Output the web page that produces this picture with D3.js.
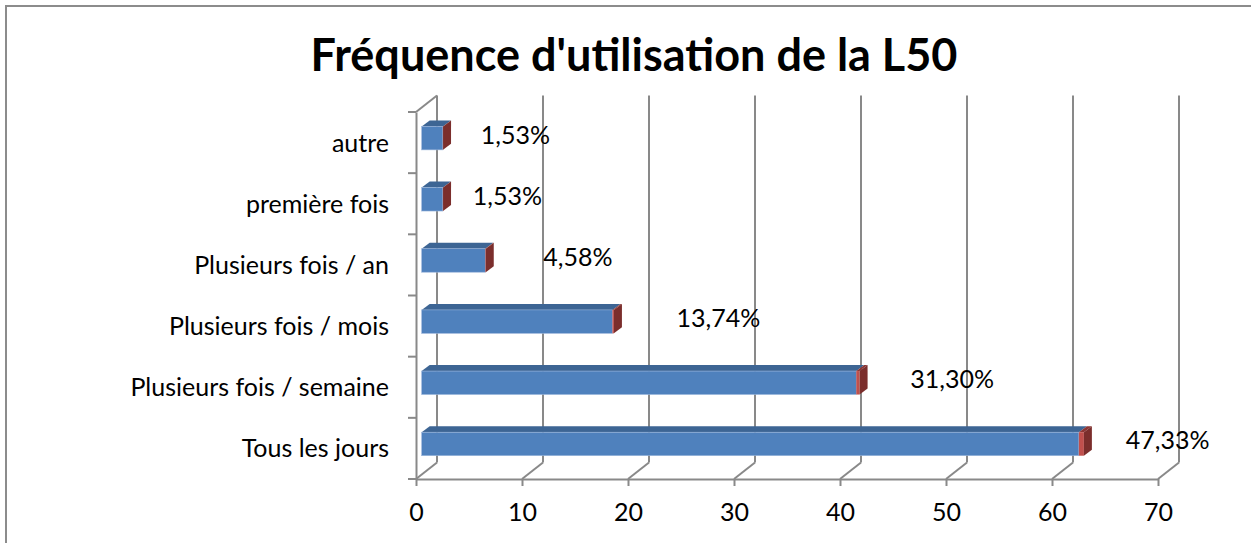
<!DOCTYPE html>
<html>
<head>
<meta charset="utf-8">
<script src="https://cdn.jsdelivr.net/npm/d3@7"></script>
<style>
  body { margin: 0; background: #fff; }
  text { font-family: Lato, "Open Sans", sans-serif; fill: #000; }
</style>
</head>
<body>
<svg id="chart" width="1251" height="543"></svg>
<script>
// Data, in series order (bottom bar first)
const categories = [
  "Tous les jours",
  "Plusieurs fois / semaine",
  "Plusieurs fois / mois",
  "Plusieurs fois / an",
  "première fois",
  "autre",
];
const counts = [62, 41, 18, 6, 2, 2];
const shares = [47.33, 31.30, 13.74, 4.58, 1.53, 1.53]; // percent, second (red) series
const xTicks = [0, 10, 20, 30, 40, 50, 60, 70];

const CONFIG = {
  left: 416,
  right: 1158,
  top: 112,
  bottom: 479,
  depthX: 21,       // back wall offset
  depthY: -16.5,
  barFront: 0.27,   // bar front plane, as a fraction of the depth
  barDepthX: 8,
  barDepthY: -6,
  barHeight: 0.384, // fraction of the band
  grid: "#898989",
  blue: "#4f81bd",
  blueTop: "#3d6594",
  red: "#c0504d",
  redTop: "#8c3634",
  redSide: "#7b2e2c",
  fontSize: "25px",
  labelGap: 48,
  labelNudge: [-1, 6, 16, 10, -18, -10],
};

const svg = d3.select("#chart");

// chart frame
svg.append("rect")
  .attr("x", 6).attr("y", 6)
  .attr("width", 1270).attr("height", 560)
  .attr("fill", "#fff")
  .attr("stroke", "#8c8c8c")
  .attr("stroke-width", 2);

svg.append("text")
  .attr("x", 634).attr("y", 71)
  .attr("text-anchor", "middle")
  .style("font-size", "45px")
  .style("font-weight", "bold")
  .text("Fréquence d'utilisation de la L50");

const x = d3.scaleLinear().domain([0, 70]).range([CONFIG.left, CONFIG.right]);
const y = d3.scaleBand()
  .domain(categories.slice().reverse())
  .range([CONFIG.top, CONFIG.bottom]);

const dx = CONFIG.depthX;
const dy = CONFIG.depthY;
const g = svg.append("g");

// Back wall gridlines
g.selectAll(".grid")
  .data(xTicks)
  .enter()
  .append("line")
  .attr("x1", d => x(d) + dx).attr("x2", d => x(d) + dx)
  .attr("y1", CONFIG.top + dy).attr("y2", CONFIG.bottom + dy)
  .attr("stroke", CONFIG.grid)
  .attr("stroke-width", 2);

// Floor diagonals
g.selectAll(".floor")
  .data(xTicks)
  .enter()
  .append("line")
  .attr("x1", d => x(d)).attr("y1", CONFIG.bottom)
  .attr("x2", d => x(d) + dx).attr("y2", CONFIG.bottom + dy)
  .attr("stroke", CONFIG.grid)
  .attr("stroke-width", 2);

// Left wall top edge
g.append("line")
  .attr("x1", x(0)).attr("y1", CONFIG.top)
  .attr("x2", x(0) + dx).attr("y2", CONFIG.top + dy)
  .attr("stroke", CONFIG.grid)
  .attr("stroke-width", 2);

// Bottom axis
const xAxis = svg.append("g")
  .attr("transform", `translate(0,${CONFIG.bottom})`)
  .call(d3.axisBottom(x).tickValues(xTicks).tickSize(7).tickSizeOuter(0));
xAxis.selectAll("path, line").attr("stroke", CONFIG.grid).attr("stroke-width", 2);
xAxis.selectAll("text")
  .attr("dy", null)
  .attr("y", 42)
  .style("font-size", CONFIG.fontSize)
  .style("font-family", "Lato, sans-serif")
  .attr("fill", "#000");

// Left axis
const yAxis = svg.append("g")
  .attr("transform", `translate(${CONFIG.left},0)`)
  .call(d3.axisLeft(y).tickSize(0).tickPadding(27));
yAxis.select(".domain").attr("stroke", CONFIG.grid).attr("stroke-width", 2);
yAxis.selectAll("text")
  .attr("dy", "0.36em")
  .style("font-size", CONFIG.fontSize)
  .style("font-family", "Lato, sans-serif")
  .attr("fill", "#000");

const bounds = y.domain().map(c => y(c)).concat([CONFIG.bottom]);
svg.selectAll(".ytick")
  .data(bounds)
  .enter()
  .append("line")
  .attr("x1", CONFIG.left - 8).attr("x2", CONFIG.left)
  .attr("y1", d => d).attr("y2", d => d)
  .attr("stroke", CONFIG.grid)
  .attr("stroke-width", 2);

// Bars
const rows = categories.map((c, i) => ({ cat: c, count: counts[i], share: shares[i], i }));
const fx = CONFIG.barFront * dx;
const fy = CONFIG.barFront * dy;
const bh = y.bandwidth() * CONFIG.barHeight;
const bdx = CONFIG.barDepthX;
const bdy = CONFIG.barDepthY;

function topFace(x0, x1, yTop) {
  return [[x0, yTop], [x0 + bdx, yTop + bdy], [x1 + bdx, yTop + bdy], [x1, yTop]].join(" ");
}

const bars = svg.selectAll(".bar")
  .data(rows)
  .enter()
  .append("g")
  .attr("class", "bar");

bars.each(function (d) {
  const sel = d3.select(this);
  const yc = y(d.cat) + y.bandwidth() / 2 + fy;
  const yTop = yc - bh / 2;
  const x0 = x(0) + fx;
  const x1 = x(d.count) + fx;
  const x2 = x(d.count + d.share / 100) + fx;

  // blue series
  sel.append("polygon").attr("points", topFace(x0, x1, yTop)).attr("fill", CONFIG.blueTop);
  sel.append("rect")
    .attr("x", x0).attr("y", yTop)
    .attr("width", x1 - x0).attr("height", bh)
    .attr("fill", CONFIG.blue)
    .attr("stroke", "#9db7dc").attr("stroke-width", 0.6);

  // red series stacked on the end
  sel.append("polygon").attr("points", topFace(x1, x2, yTop)).attr("fill", CONFIG.redTop);
  sel.append("rect")
    .attr("x", x1).attr("y", yTop)
    .attr("width", x2 - x1).attr("height", bh)
    .attr("fill", CONFIG.red);
  sel.append("polygon")
    .attr("points", [[x2, yTop], [x2 + bdx, yTop + bdy], [x2 + bdx, yTop + bh + bdy], [x2, yTop + bh]].join(" "))
    .attr("fill", CONFIG.redSide);
});

// Data labels
svg.selectAll(".label")
  .data(rows)
  .enter()
  .append("text")
  .attr("x", d => x(d.count) + fx + CONFIG.labelGap + CONFIG.labelNudge[d.i])
  .attr("y", d => y(d.cat) + y.bandwidth() / 2 + 1)
  .style("font-size", CONFIG.fontSize)
  .text(d => d3.format(".2f")(d.share).replace(".", ",") + "%");
</script>
</body>
</html>
